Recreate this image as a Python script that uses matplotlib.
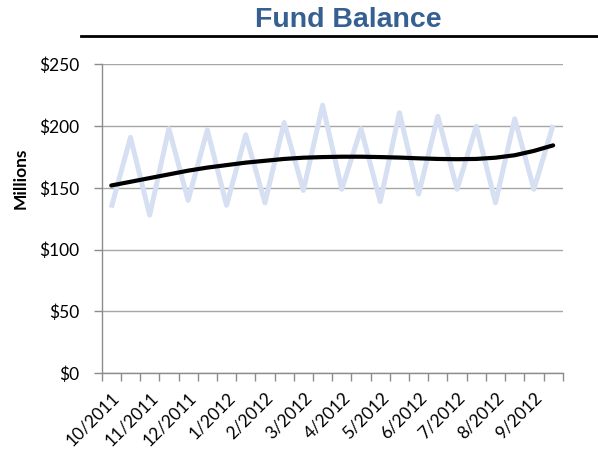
import matplotlib.pyplot as plt
from matplotlib.lines import Line2D
from matplotlib.ticker import FuncFormatter

# twice-monthly fund balance readings ($ millions)
balance = [134, 191, 128, 198, 140, 197, 136, 193, 138, 203, 148, 217,
           149, 198, 139, 211, 145, 208, 149, 200, 138, 206, 149, 201]
# polynomial trend line as drawn on the chart
trend = [152, 155, 158, 161, 164, 166.5, 168.5, 170.5, 172, 173.5, 174.5, 175,
         175.3, 175.3, 175, 174.6, 174, 173.5, 173.3, 173.5, 174.5, 176.5, 180, 184.5]
month_labels = ["10/2011", "11/2011", "12/2011", "1/2012", "2/2012", "3/2012",
                "4/2012", "5/2012", "6/2012", "7/2012", "8/2012", "9/2012"]
y_ticks = [0, 50, 100, 150, 200, 250]

grey = "#8c8c8c"

fig = plt.figure(figsize=(5.98, 4.54), dpi=100)
ax = fig.add_axes([0.170, 0.178, 0.771, 0.680])

x = list(range(len(balance)))
ax.plot(x, balance, color="#d6e0f2", lw=3.6, solid_joinstyle="round",
        solid_capstyle="butt", zorder=2)
ax.plot(x, trend, color="black", lw=3.0, solid_capstyle="round", zorder=3)

ax.set_xlim(-0.5, len(balance) - 0.5)
ax.set_ylim(0, 250)
ax.set_yticks(y_ticks)
ax.yaxis.set_major_formatter(FuncFormatter(lambda v, p: "${:.0f}".format(v)))
ax.grid(axis="y", color="#a6a6a6", lw=1.0)
ax.set_axisbelow(True)

# category ticks between points, labels every second point
ax.set_xticks([i - 0.5 for i in range(len(balance) + 1)], minor=True)
ax.set_xticks(x[::2])
ax.set_xticklabels(month_labels, rotation=45, ha="right",
                   rotation_mode="anchor")
ax.tick_params(axis="x", which="major", length=0, pad=12)
ax.tick_params(axis="x", which="minor", length=6, color=grey, width=1.0)
ax.tick_params(axis="y", length=6, color=grey, width=1.0, pad=10)
for lbl in ax.get_xticklabels() + ax.get_yticklabels():
    lbl.set_fontfamily("Lato")
    lbl.set_fontsize(12.5)

for side in ["top", "right"]:
    ax.spines[side].set_visible(False)
for side in ["left", "bottom"]:
    ax.spines[side].set_color(grey)
    ax.spines[side].set_linewidth(1.0)

ax.set_ylabel("Millions", fontfamily="Lato", fontweight="bold", fontsize=12.5,
              va="center")
ax.yaxis.set_label_coords(-0.175, 0.632)

fig.text(0.582, 0.957, "Fund Balance", ha="center", va="center",
         fontfamily="Liberation Sans", fontweight="bold", fontsize=20.5,
         color="#376092")
fig.add_artist(Line2D([0.135, 1.0], [0.920, 0.920], color="black", lw=2.0,
                      transform=fig.transFigure))

plt.savefig("out.png", dpi=100)
plt.close()
